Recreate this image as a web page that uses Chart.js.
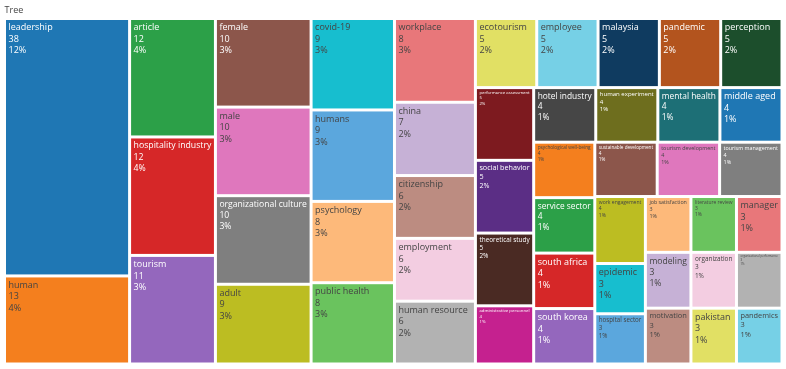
<!DOCTYPE html>
<html>
<head>
<meta charset="utf-8">
<script src="https://cdn.jsdelivr.net/npm/chart.js@4.4.1/dist/chart.umd.min.js"></script>
<style>
html,body{margin:0;padding:0;background:#fff;}
#wrap{width:786px;height:369px;position:relative;}
</style>
</head>
<body>
<div id="wrap"><canvas id="c"></canvas></div>
<script>
// ---- data ----
const titleText = "Tree";
const labels = [
  "leadership","human","article","hospitality industry","tourism",
  "female","male","organizational culture","adult","covid-19",
  "humans","psychology","public health","workplace","china",
  "citizenship","employment","human resource","ecotourism","employee",
  "malaysia","pandemic","perception","performance assessment","social behavior",
  "theoretical study","administrative personnel","hotel industry","human experiment","mental health",
  "middle aged","psychological well-being","service sector","south africa","south korea",
  "sustainable development","tourism development","tourism management","work engagement","epidemic",
  "hospital sector","job satisfaction","literature review","manager","modeling",
  "motivation","organization","organizational performance","pakistan","pandemics"
];
const values = [
  38,13,12,12,11,
  10,10,10,9,9,
  9,8,8,8,7,
  6,6,6,5,5,
  5,5,5,5,5,
  5,4,4,4,4,
  4,4,4,4,4,
  4,4,4,4,3,
  3,3,3,3,3,
  3,3,3,3,3
];
const palette = [
  "#1f77b4","#f47f1e","#2ca048","#d62728","#9467bd",
  "#8c564b","#df77bd","#7f7f7f","#bcbd22","#17becf",
  "#5ba7dd","#fdb97a","#6ac35e","#e8777a","#c6b1d6",
  "#bc8c81","#f3cde1","#b2b2b2","#e1e064","#76d0e6",
  "#0f3b60","#b3541e","#1c4e2c","#7d1a1f","#5b2e85",
  "#4a2a23","#c5218f","#464646","#6e6e1e","#1d6f76"
];

const total = values.reduce((a, b) => a + b, 0);

// d3-style squarify (ratio 1)
function squarify(nodes, x0, y0, x1, y1) {
  let value = nodes.reduce((s, n) => s + n.value, 0);
  let i0 = 0, i1 = 0;
  const n = nodes.length;
  while (i0 < n) {
    const dx = x1 - x0, dy = y1 - y0;
    let sumValue = nodes[i1++].value;
    let minValue = sumValue, maxValue = sumValue;
    const alpha = Math.max(dy / dx, dx / dy) / value;
    let beta = sumValue * sumValue * alpha;
    let minRatio = Math.max(maxValue / beta, beta / minValue);
    for (; i1 < n; ++i1) {
      const nv = nodes[i1].value;
      sumValue += nv;
      if (nv < minValue) minValue = nv;
      if (nv > maxValue) maxValue = nv;
      beta = sumValue * sumValue * alpha;
      const newRatio = Math.max(maxValue / beta, beta / minValue);
      if (newRatio > minRatio) { sumValue -= nv; break; }
      minRatio = newRatio;
    }
    const row = nodes.slice(i0, i1);
    if (dx < dy) {
      const yy = y0 + dy * sumValue / value;
      let x = x0;
      row.forEach(nd => { const w = dx * nd.value / sumValue; nd.x0 = x; nd.x1 = x + w; nd.y0 = y0; nd.y1 = yy; x += w; });
      y0 = yy;
    } else {
      const xx = x0 + dx * sumValue / value;
      let y = y0;
      row.forEach(nd => { const h = dy * nd.value / sumValue; nd.y0 = y; nd.y1 = y + h; nd.x0 = x0; nd.x1 = xx; y += h; });
      x0 = xx;
    }
    value -= sumValue;
    i0 = i1;
  }
}

function isDark(hex) {
  const r = parseInt(hex.slice(1, 3), 16), g = parseInt(hex.slice(3, 5), 16), b = parseInt(hex.slice(5, 7), 16);
  return (r * 299 + g * 587 + b * 114) / 1000 < 128;
}

const FONT = '"Open Sans", "Liberation Sans", sans-serif';
const BASE = 9;

const treemapPlugin = {
  id: 'treemapCells',
  afterDatasetsDraw(chart) {
    const ctx = chart.ctx;
    const xs = chart.scales.x, ys = chart.scales.y, ca = chart.chartArea;
    const W = ca.right - ca.left, H = ca.bottom - ca.top;
    const nodes = labels.map((l, i) => ({ label: l, value: values[i], idx: i }));
    nodes.sort((a, b) => b.value - a.value || a.idx - b.idx);
    squarify(nodes, 0, 0, W, H);
    const gap = 1.5;
    ctx.save();
    nodes.forEach(nd => {
      const px0 = xs.getPixelForValue(nd.x0 / W) + gap;
      const px1 = xs.getPixelForValue(nd.x1 / W) - gap;
      const py0 = ys.getPixelForValue(nd.y0 / H) + gap;
      const py1 = ys.getPixelForValue(nd.y1 / H) - gap;
      const color = palette[nd.idx % palette.length];
      ctx.fillStyle = color;
      ctx.fillRect(px0, py0, px1 - px0, py1 - py0);
      // label
      const lines = [nd.label, String(nd.value), Math.round(nd.value / total * 100) + '%'];
      ctx.font = BASE + 'px ' + FONT;
      const maxW = Math.max(...lines.map(t => ctx.measureText(t).width));
      const padX = 2.5;
      const avail = (px1 - px0) - 2 * padX;
      let fs = BASE;
      if (maxW > avail) fs = BASE * avail / maxW;
      const lh = fs * 1.28;
      ctx.font = fs.toFixed(2) + 'px ' + FONT;
      ctx.fillStyle = isDark(color) ? '#ffffff' : '#444444';
      ctx.textBaseline = 'alphabetic';
      ctx.textAlign = 'left';
      let by = py0 + 3 * (fs / BASE) + fs * 0.8;
      lines.forEach(t => { ctx.fillText(t, px0 + padX, by); by += lh; });
    });
    ctx.restore();
  }
};

new Chart(document.getElementById('c'), {
  type: 'scatter',
  data: { datasets: [{ data: [], pointRadius: 0 }] },
  options: {
    responsive: true,
    maintainAspectRatio: false,
    animation: false,
    layout: { padding: { left: 4.5, right: 4, top: 0, bottom: 5 } },
    scales: {
      x: { type: 'linear', min: 0, max: 1, display: false },
      y: { type: 'linear', min: 0, max: 1, reverse: true, display: false }
    },
    plugins: {
      legend: { display: false },
      tooltip: { enabled: false },
      title: {
        display: true,
        text: titleText,
        align: 'start',
        color: '#444444',
        font: { family: FONT, size: 9, weight: 'normal', lineHeight: 1.2 },
        padding: { top: 5, bottom: 2.7 }
      }
    }
  },
  plugins: [treemapPlugin]
});
</script>
</body>
</html>
